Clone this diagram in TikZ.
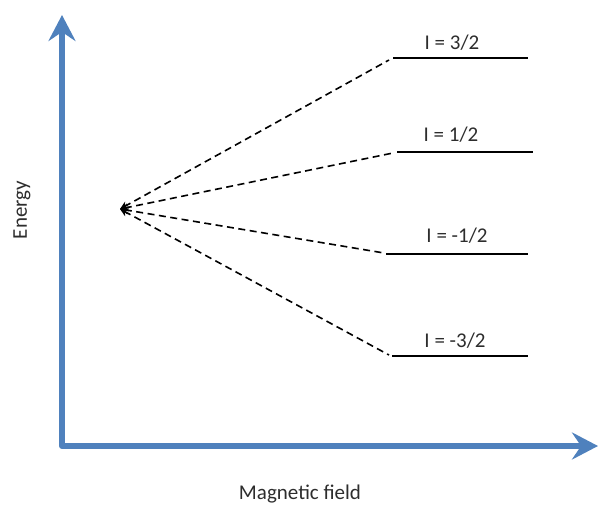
\documentclass[tikz,border=0pt]{standalone}
\usepackage{fontspec}
\setmainfont{Carlito}
\usetikzlibrary{positioning,arrows.meta}
\definecolor{axisblue}{RGB}{79,129,189}
\definecolor{labelgray}{RGB}{45,45,45}

\begin{document}
\begin{tikzpicture}[x=1pt,y=-1pt,
  axis/.style={draw=axisblue,line width=6pt,line join=round,{Stealth[length=26pt,width=27pt,inset=9pt]}-{Stealth[length=26pt,width=27pt,inset=9pt]}},
  levelline/.style={draw=black,line width=1.6pt},
  split/.style={draw=black,line width=1.6pt,dash pattern=on 7pt off 4.5pt,{Stealth[length=8pt,width=8pt]}-},
  lvltext/.style={font=\fontsize{21}{23}\selectfont,text=labelgray,inner sep=0pt,anchor=south},
  axtext/.style={font=\fontsize{21}{23}\selectfont,text=labelgray}]
  \useasboundingbox (0,0) rectangle (600,506);
  % axes
  \coordinate (origin) at (62,446);
  \coordinate (ytip) at (62,15);
  \coordinate (xtip) at (598,446);
  \draw[axis] (ytip) -- (origin) -- (xtip);
  \node[axtext,rotate=90] (energy) at (22,210) {Energy};
  \node[axtext] (field) at (300,494) {Magnetic field};
  % zero-field level
  \coordinate (src) at (120,209);
  % split levels
  \coordinate (a32) at (393,58);  \coordinate (b32) at (528,58);
  \coordinate (a12) at (397,152); \coordinate (b12) at (533,152);
  \coordinate (am12) at (386,254); \coordinate (bm12) at (528,254);
  \coordinate (am32) at (392,356); \coordinate (bm32) at (528,356);
  \draw[levelline] (a32) -- (b32);
  \draw[levelline] (a12) -- (b12);
  \draw[levelline] (am12) -- (bm12);
  \draw[levelline] (am32) -- (bm32);
  \node[lvltext] (t32) at (452,51) {I = 3/2};
  \node[lvltext] (t12) at (451,143) {I = 1/2};
  \node[lvltext] (tm12) at (457,244) {I = -1/2};
  \node[lvltext] (tm32) at (455,349) {I = -3/2};
  \draw[split] (src) -- ([shift={(-4,2)}]a32);
  \draw[split] (src) -- ([shift={(-4,1)}]a12);
  \draw[split] (src) -- ([shift={(-2,-1)}]am12);
  \draw[split] (src) -- ([shift={(-3,-1)}]am32);
\end{tikzpicture}
\end{document}
